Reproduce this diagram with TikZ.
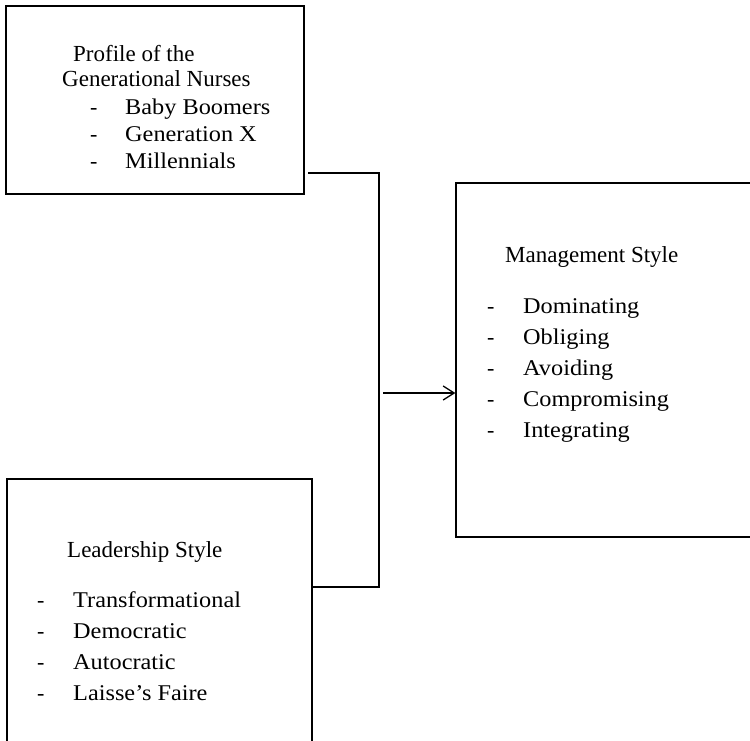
\documentclass[tikz,border=0pt]{standalone}
\usepackage{fontspec}
\setmainfont{Liberation Serif}
\newfontfamily\listfont[FakeStretch=1.08]{Liberation Serif}
\usetikzlibrary{arrows.meta}
\tikzset{>=latex}
\tikzset{
  box/.style={draw, line width=1.3pt, rectangle, inner sep=0pt},
  head/.style={anchor=base west, inner sep=0pt, font=\fontsize{23}{26}\selectfont},
  bullet/.style={anchor=base west, inner sep=0pt, font=\fontsize{22}{26}\selectfont},
  entry/.style={anchor=base west, inner sep=0pt, font=\listfont\fontsize{22.5}{26}\selectfont},
  link/.style={line width=1.1pt},
}

\begin{document}
\begin{tikzpicture}[x=1pt,y=-1pt]
  \path[use as bounding box, clip] (0,0) rectangle (750,741);

  % the three boxes
  \node[box, minimum width=298pt, minimum height=188pt] (profile) at (155,100) {};
  \node[box, minimum width=305pt, minimum height=330pt] (leader) at (159.5,644) {};
  \node[box, minimum width=340pt, minimum height=354pt] (mgmt) at (626,360) {};

  % profile of the nurses
  \node[head] (profhead) at (73,62) {Profile of the};
  \node[head] (profhead2) at (62,87) {Generational Nurses};
  \foreach \name [count=\i] in {Baby Boomers, Generation X, Millennials} {
    \node[bullet] (pd\i) at (90,{115+26.8*(\i-1)}) {-};
    \node[entry] (pe\i) at (125,{115+26.8*(\i-1)}) {\name};
  }

  % leadership
  \node[head] (leadhead) at (67,557) {Leadership Style};
  \foreach \name [count=\i] in {Transformational, Democratic, Autocratic, Laisse’s Faire} {
    \node[bullet] (ld\i) at (37,{607+31*(\i-1)}) {-};
    \node[entry] (le\i) at (73,{607+31*(\i-1)}) {\name};
  }

  % management
  \node[head] (mgmthead) at (505,262) {Management Style};
  \foreach \name [count=\i] in {Dominating, Obliging, Avoiding, Compromising, Integrating} {
    \node[bullet] (md\i) at (487,{313+31*(\i-1)}) {-};
    \node[entry] (me\i) at (523,{313+31*(\i-1)}) {\name};
  }

  % bracket and arrow
  \coordinate (topout) at (308,173);
  \coordinate (botout) at (312,587);
  \coordinate (join) at (379,393);
  \coordinate (arrowstart) at (383,393);
  \draw[link] (topout) -| (join) |- (botout);
  \draw[link, -{Straight Barb[length=11pt, width=14pt, line width=1.3pt]}] (arrowstart) -- (arrowstart -| mgmt.west);
\end{tikzpicture}
\end{document}
